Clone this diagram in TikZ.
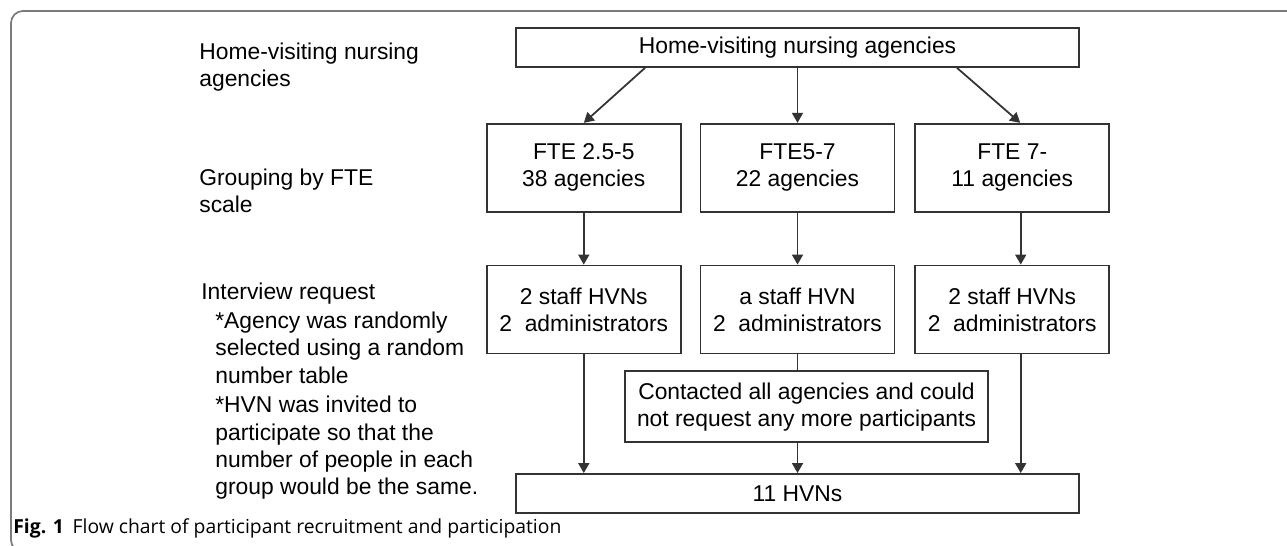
\documentclass[tikz,border=0pt]{standalone}
\usepackage{fontspec}
\setmainfont{Liberation Sans}
\newfontfamily\captionfont{Open Sans}
\usetikzlibrary{arrows.meta, positioning}
\definecolor{linegray}{HTML}{333333}
\definecolor{framegray}{HTML}{7A7A7A}
\tikzset{
  box/.style={
    rectangle,
    draw=linegray,
    line width=1pt,
    align=center,
    inner sep=0pt,
    minimum width=3.88cm,
    minimum height=1.76cm,
    font=\fontsize{13pt}{15.3pt}\selectfont
  },
  widebox/.style={box, minimum width=11.26cm, minimum height=0.78cm},
  notebox/.style={box, minimum width=7.26cm, minimum height=1.42cm},
  stage/.style={
    anchor=base west,
    align=left,
    inner sep=0pt,
    font=\fontsize{13pt}{15.6pt}\selectfont
  },
  arrow/.style={-{Triangle[length=2mm, width=2.2mm]}, draw=linegray, line width=1pt},
  link/.style={draw=linegray, line width=1pt}
}

\begin{document}
\begin{tikzpicture}[x=0.02cm, y=-0.02cm]
\useasboundingbox (0,0) rectangle (1287,546);
% figure frame
\begin{scope}
\clip (0,0) rectangle (1287,546);
\draw[framegray, line width=1pt, rounded corners=0.24cm] (11,11) rectangle (1320,552);
\end{scope}

% stages on the left (base = last line)
\node[stage] (lblagencies) at (199,87) {Home-visiting nursing\\agencies};
\node[stage] (lblgrouping) at (199,213) {Grouping by FTE\\scale};
\node[stage] (lblrequest) at (201,300) {Interview request};
\node[stage] (lblnotes) at (215,495) {*Agency was randomly\\selected using a random\\number table\\[0.04cm]*HVN was invited to\\participate so that the\\number of people in each\\group would be the same.};

% boxes
\node[widebox] (agencies) at (797.5,47.5) {Home-visiting nursing agencies};
\node[box, below=1.1cm of agencies] (fte2) {FTE5-7\\22 agencies};
\node[box, left=0.36cm of fte2] (fte1) {FTE 2.5-5\\38 agencies};
\node[box, right=0.38cm of fte2] (fte3) {FTE 7-\\11 agencies};
\node[box, below=1.04cm of fte1] (req1) {2 staff HVNs\\2\ \ administrators};
\node[box, below=1.04cm of fte2] (req2) {a staff HVN\\2\ \ administrators};
\node[box, below=1.04cm of fte3] (req3) {2 staff HVNs\\2\ \ administrators};
\node[notebox, below=0.32cm of req2, xshift=0.18cm] (contacted) {Contacted all agencies and could\\not request any more participants};
\node[widebox, below=0.6cm of contacted, xshift=-0.18cm] (hvns) {11 HVNs};

% connectors
\draw[arrow] ([xshift=-3.05cm]agencies.south) -- (fte1.north);
\draw[arrow] (agencies) -- (fte2);
\draw[arrow] ([xshift=3.19cm]agencies.south) -- ([xshift=0.16cm]fte3.north);
\draw[arrow] (fte1) -- (req1);
\draw[arrow] (fte2) -- (req2);
\draw[arrow] ([xshift=0.17cm]fte3.south) -- ([xshift=0.17cm]req3.north);
\draw[arrow] (req1) -- (req1 |- hvns.north);
\draw[link] (req2) -- (req2 |- contacted.north);
\draw[arrow] (contacted.south -| req2) -- (req2 |- hvns.north);
\draw[arrow] ([xshift=0.17cm]req3.south) -- ([xshift=0.17cm]req3.south |- hvns.north);

% caption
\node[anchor=base west, inner sep=0pt, font=\captionfont\fontsize{11pt}{13pt}\selectfont] (caption) at (13,534) {\textbf{Fig. 1}\hspace{0.45em}Flow chart of participant recruitment and participation};
\end{tikzpicture}
\end{document}
